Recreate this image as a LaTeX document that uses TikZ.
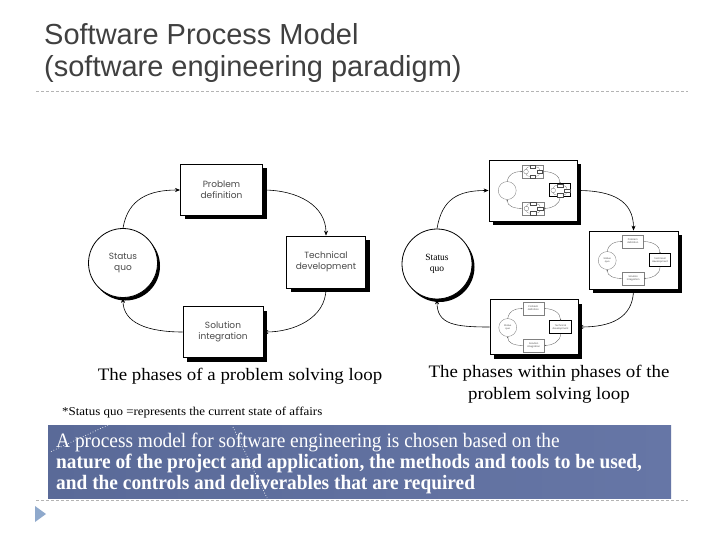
\documentclass[tikz,border=0pt]{standalone}
\usepackage{fontspec}
\setmainfont{Liberation Serif}
\newfontfamily\titlefont{Liberation Sans}
\newfontfamily\geofont{Poppins}
\newfontfamily\capfont[FakeStretch=1.08]{Liberation Serif}
\newfontfamily\bodyfont[FakeStretch=0.945]{Liberation Serif}
\usetikzlibrary{arrows.meta,shadows}
\definecolor{titlegray}{HTML}{404040}
\definecolor{dashgray}{HTML}{B4B4B4}
\definecolor{boxblueL}{HTML}{5A6A98}
\definecolor{boxblueR}{HTML}{6676A6}
\definecolor{trifill}{HTML}{8FA9CC}
\definecolor{lbltext}{HTML}{4A4A4A}
\tikzset{
  shad/.style={drop shadow={shadow xshift=4pt,shadow yshift=-4pt,fill=black,opacity=1}},
  cshad/.style={drop shadow={shadow xshift=2.5pt,shadow yshift=-3pt,fill=black,opacity=1}},
  lbox/.style={draw,fill=white,line width=0.8pt,inner sep=0pt,align=center,shad,
    text=lbltext,font=\geofont\fontsize{9}{11}\selectfont},
  lcirc/.style={circle,draw,fill=white,line width=0.8pt,inner sep=0pt,align=center,cshad,
    minimum size=69pt,text=lbltext,font=\geofont\fontsize{9}{11}\selectfont},
  conn/.style={line width=0.6pt,-{Stealth[length=5pt,width=4pt]}},
  mbox/.style={draw=gray,fill=white,line width=0.35pt,inner sep=0pt,align=center,transform shape,
    minimum width=82pt,minimum height=51pt,text=lbltext,font=\geofont\fontsize{9}{11}\selectfont},
  mhi/.style={draw=black,line width=0.8pt},
  mcirc/.style={circle,draw=gray,fill=white,line width=0.35pt,inner sep=0pt,align=center,transform shape,
    minimum size=69pt,text=lbltext,font=\geofont\fontsize{9}{11}\selectfont},
  mconn/.style={line width=0.3pt,draw=black!65,-{Stealth[length=1.6pt,width=1.3pt]}},
  uconn/.style={line width=0.2pt,draw=black!60},
  ubox/.style={draw=black!70,fill=white,line width=0.2pt,inner sep=0pt,transform shape,
    minimum width=82pt,minimum height=51pt},
  ucirc/.style={circle,draw=black!70,fill=white,line width=0.2pt,inner sep=0pt,transform shape,
    minimum size=69pt},
  capt/.style={font=\capfont\fontsize{17.5}{22}\selectfont,align=center,inner sep=0pt},
  bodyl/.style={anchor=base west,inner sep=0pt,text=white,font=\bodyfont\fontsize{20.5}{24}\selectfont},
  pics/bareloop/.style={code={
    \node[ucirc] (-c) at (-101,2) {};
    \node[ubox] (-p) at (-2.5,-71) {};
    \node[ubox] (-t) at (102,1) {};
    \node[ubox] (-s) at (-1,71) {};
    \draw[uconn] (-c.north) .. controls +(5,-30) and +(-30,0) .. (-p.west);
    \draw[uconn] (-p.east) .. controls +(35,0) and +(0,-30) .. (-t.north);
    \draw[uconn] (-t.south) .. controls +(0,30) and +(30,0) .. (-s.east);
    \draw[uconn] (-s.west) .. controls +(-35,0) and +(0,25) .. (-c.south);
  }},
  pics/txtloop/.style={code={
    \node[mcirc] (-c) at (-101,2) {Status\\quo};
    \node[mbox] (-p) at (-2.5,-71) {Problem\\definition};
    \node[mbox,mhi] (-t) at (102,1) {Technical\\development};
    \node[mbox] (-s) at (-1,71) {Solution\\integration};
    \draw[mconn] (-c.north) .. controls +(5,-30) and +(-30,0) .. (-p.west);
    \draw[mconn] (-p.east) .. controls +(35,0) and +(0,-30) .. (-t.north);
    \draw[mconn] (-t.south) .. controls +(0,30) and +(30,0) .. (-s.east);
    \draw[mconn] (-s.west) .. controls +(-35,0) and +(0,25) .. (-c.south);
  }},
  pics/iconloop/.style={code={
    \node[mcirc] (-c) at (-101,2) {};
    \node[mbox] (-p) at (-2.5,-71) {};
    \node[mbox,mhi] (-t) at (102,1) {};
    \node[mbox] (-s) at (-1,71) {};
    \draw[mconn] (-c.north) .. controls +(5,-30) and +(-30,0) .. (-p.west);
    \draw[mconn] (-p.east) .. controls +(35,0) and +(0,-30) .. (-t.north);
    \draw[mconn] (-t.south) .. controls +(0,30) and +(30,0) .. (-s.east);
    \draw[mconn] (-s.west) .. controls +(-35,0) and +(0,25) .. (-c.south);
  }},
}
\begin{document}
\begin{tikzpicture}[x=1pt,y=-1pt]
\useasboundingbox (0,0) rectangle (720,540);
\fill[white] (0,0) rectangle (720,540);

% title
\node[anchor=base west,inner sep=0pt,text=titlegray,font=\titlefont\fontsize{29}{32}\selectfont] (t1) at (44,45) {Software Process Model};
\node[anchor=base west,inner sep=0pt,text=titlegray,font=\titlefont\fontsize{29}{32}\selectfont] (t2) at (44,77) {(software engineering paradigm)};
\draw[dashgray,line width=0.8pt,dash pattern=on 3pt off 2pt] (36,91) -- (688,91);

% left loop
\node[lcirc] (sq) at (123,263) {Status\\quo};
\node[lbox,minimum width=82pt,minimum height=51pt] (pd) at (221.5,190) {Problem\\definition};
\node[lbox,minimum width=79pt,minimum height=52pt] (td) at (326,262) {Technical\\development};
\node[lbox,minimum width=80pt,minimum height=51pt] (si) at (223,332) {Solution\\integration};
\draw[conn] (sq.north) .. controls +(5,-30) and +(-30,0) .. (pd.west);
\draw[conn] (pd.east) .. controls +(35,0) and +(0,-30) .. (td.north);
\draw[conn] (td.south) .. controls +(0,30) and +(30,0) .. (si.east);
\draw[conn] (si.west) .. controls +(-35,0) and +(0,25) .. (sq.south);

% right loop
\node[lcirc,minimum size=70pt,font=\rmfamily\fontsize{9.5}{11}\selectfont,text=black] (rsq) at (437,264) {Status\\quo};
\node[lbox,minimum width=88pt,minimum height=61pt] (rpd) at (533,190.5) {};
\node[lbox,minimum width=89pt,minimum height=58pt] (rtd) at (633.5,260) {};
\node[lbox,minimum width=88pt,minimum height=55pt] (rsi) at (534,327) {};
\pic[scale=0.26] (mp) at (533.5,190) {iconloop};
\pic[scale=0.0676] (up) at (532.85,171.54) {bareloop};
\pic[scale=0.0676] (ut) at (560.02,190.26) {bareloop};
\pic[scale=0.0676] (us) at (533.24,208.46) {bareloop};
\pic[scale=0.26] (mt) at (633.5,260) {txtloop};
\pic[scale=0.26] (ms) at (534,327) {txtloop};
\draw[conn] (rsq.north) .. controls +(5,-30) and +(-30,0) .. (rpd.west);
\draw[conn] (rpd.east) .. controls +(35,0) and +(0,-30) .. (rtd.north);
\draw[conn] (rtd.south) .. controls +(0,30) and +(30,0) .. (rsi.east);
\draw[conn] (rsi.west) .. controls +(-35,0) and +(0,25) .. (rsq.south);

% captions
\node[capt] (cap1) at (240,376) {The phases of a problem solving loop};
\node[capt] (cap2) at (549,384) {The phases within phases of the\\problem solving loop};
\node[anchor=west,inner sep=0pt,font=\capfont\fontsize{12}{14}\selectfont] (fn) at (62,413) {*Status quo =represents the current state of affairs};

% blue box
\node[inner sep=0pt,minimum width=623pt,minimum height=73pt,left color=boxblueL,right color=boxblueR] (bb) at (359.5,461.5) {};
\node[bodyl] (l1) at (56,447) {A process model for software engineering is chosen based on the};
\node[bodyl,font=\bodyfont\bfseries\fontsize{20.5}{24}\selectfont] (l2) at (56,468) {nature of the project and application, the methods and tools to be used,};
\node[bodyl,font=\bodyfont\bfseries\fontsize{20.5}{24}\selectfont] (l3) at (56,489) {and the controls and deliverables that are required};
\coordinate (d1a) at (108,425); \coordinate (d1b) at (50,452);
\coordinate (d2a) at (233,427); \coordinate (d2b) at (267,498);
\draw[white,dotted,line width=0.7pt] (d1a) -- (d1b);
\draw[white,dotted,line width=0.7pt] (d2a) -- (d2b);

% footer
\draw[dashgray,line width=0.8pt,dash pattern=on 3pt off 2pt] (36,500) -- (688,500);
\fill[trifill] (35,506) -- (46,514) -- (35,522) -- cycle;
\end{tikzpicture}
\end{document}
